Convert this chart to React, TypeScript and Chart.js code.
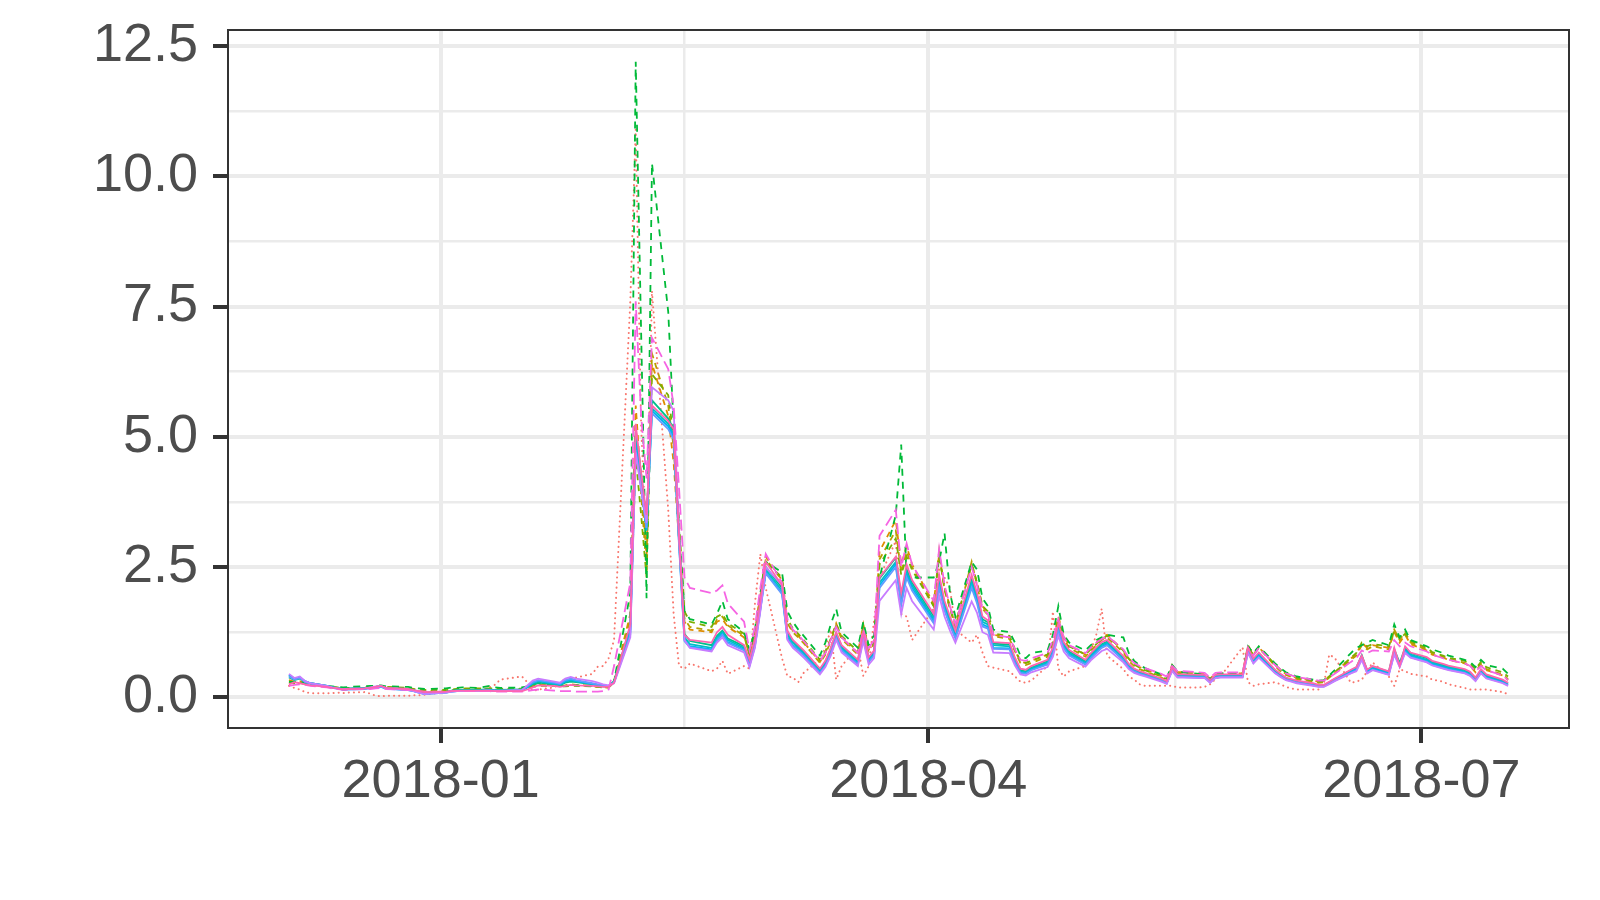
import React, { useEffect, useRef } from "react";
import { Chart, registerables } from "chart.js";
Chart.register(...registerables);

// Trading days, Dec 2017 - Jul 2018
const dates = [
  "2017-12-04","2017-12-05","2017-12-06","2017-12-07","2017-12-08","2017-12-11","2017-12-12","2017-12-13","2017-12-14","2017-12-15",
  "2017-12-18","2017-12-19","2017-12-20","2017-12-21","2017-12-22","2017-12-26","2017-12-27","2017-12-28","2017-12-29",
  "2018-01-02","2018-01-03","2018-01-04","2018-01-05","2018-01-08","2018-01-09","2018-01-10","2018-01-11","2018-01-12",
  "2018-01-16","2018-01-17","2018-01-18","2018-01-19","2018-01-22","2018-01-23","2018-01-24","2018-01-25","2018-01-26",
  "2018-01-29","2018-01-30","2018-01-31",
  "2018-02-01","2018-02-02","2018-02-05","2018-02-06","2018-02-07","2018-02-08","2018-02-09","2018-02-12","2018-02-13",
  "2018-02-14","2018-02-15","2018-02-16","2018-02-20","2018-02-21","2018-02-22","2018-02-23","2018-02-26","2018-02-27","2018-02-28",
  "2018-03-01","2018-03-02","2018-03-05","2018-03-06","2018-03-07","2018-03-08","2018-03-09","2018-03-12","2018-03-13",
  "2018-03-14","2018-03-15","2018-03-16","2018-03-19","2018-03-20","2018-03-21","2018-03-22","2018-03-23","2018-03-26",
  "2018-03-27","2018-03-28","2018-03-29",
  "2018-04-02","2018-04-03","2018-04-04","2018-04-05","2018-04-06","2018-04-09","2018-04-10","2018-04-11","2018-04-12",
  "2018-04-13","2018-04-16","2018-04-17","2018-04-18","2018-04-19","2018-04-20","2018-04-23","2018-04-24","2018-04-25",
  "2018-04-26","2018-04-27","2018-04-30",
  "2018-05-01","2018-05-02","2018-05-03","2018-05-04","2018-05-07","2018-05-08","2018-05-09","2018-05-10","2018-05-11",
  "2018-05-14","2018-05-15","2018-05-16","2018-05-17","2018-05-18","2018-05-21","2018-05-22","2018-05-23","2018-05-24",
  "2018-05-25","2018-05-29","2018-05-30","2018-05-31",
  "2018-06-01","2018-06-04","2018-06-05","2018-06-06","2018-06-07","2018-06-08","2018-06-11","2018-06-12","2018-06-13",
  "2018-06-14","2018-06-15","2018-06-18","2018-06-19","2018-06-20","2018-06-21","2018-06-22","2018-06-25","2018-06-26",
  "2018-06-27","2018-06-28","2018-06-29",
  "2018-07-02","2018-07-03","2018-07-05","2018-07-06","2018-07-09","2018-07-10","2018-07-11","2018-07-12","2018-07-13",
  "2018-07-16","2018-07-17",
];

const s01 = [ // salmon dotted
  0.22,0.18,0.15,0.10,0.08, 0.08,0.08,0.09,0.08,0.09, 0.10,0.07,0.03,0.02,0.03, 0.03,0.04,0.04,0.05,
  0.10,0.13,0.12,0.12, 0.14,0.16,0.19,0.24,0.34, 0.40,0.29,0.12,0.15, 0.19,0.28,0.36,0.30,0.38, 0.45,0.59,0.60,
  0.75,1.10, 7.60,10.90,5.20,2.80,7.80, 3.60,1.60,0.60,0.55,0.65, 0.50,0.55,0.70,0.45, 0.60,0.55,1.80,
  2.75,2.10, 0.75,0.40,0.38,0.29,0.47, 0.73,0.95,1.30,0.34,0.60, 0.98,0.41,0.60,1.49,2.30, 3.00,1.60,1.55,1.10,
  1.70,2.45,2.30,2.10,1.30, 1.05,1.20,0.86,0.60,0.57, 0.50,0.40,0.30,0.28,0.32, 0.60,1.65,0.55,0.40,0.50, 0.60,
  0.90,1.20,1.70,0.80, 0.54,0.40,0.34,0.25,0.22, 0.22,0.22,0.22,0.19,0.19, 0.19,0.20,0.25,0.35,0.41, 0.96,0.29,0.22,
  0.25, 0.29,0.25,0.20,0.17,0.15, 0.15,0.15,0.25,0.82,0.76, 0.28,0.30,0.34,0.50,0.67, 0.40,0.22,0.54,0.50,0.45,
  0.40,0.34, 0.30,0.25, 0.18,0.15,0.15,0.15,0.15, 0.10,0.06,
];
const s02 = [ // orange dashed
  0.33,0.30,0.31,0.27,0.25, 0.21,0.19,0.18,0.17,0.17, 0.18,0.19,0.20,0.21,0.18, 0.16,0.15,0.13,0.11,
  0.12,0.14,0.15,0.15, 0.15,0.16,0.16,0.15,0.15, 0.15,0.18,0.22,0.25, 0.23,0.21,0.23,0.25,0.24, 0.22,0.20,0.19,
  0.19,0.32, 1.60,5.60,4.10,2.70,6.40, 5.40,4.50,3.00,1.45,1.30, 1.25,1.45,1.50,1.35, 1.15,0.82,1.25,
  2.00,2.70, 2.25,1.45,1.28,1.18,1.06, 0.68,0.85,1.12,1.42,1.15, 0.85,1.40,0.92,1.05,2.80, 3.40,2.55,2.90,2.55,
  1.80,2.75,2.10,1.75,1.40, 2.55,2.20,1.75,1.62,1.20, 1.15,0.90,0.68,0.66,0.70, 0.82,1.08,1.55,1.18,1.00, 0.82,
  0.95,1.05,1.15,1.20, 0.90,0.74,0.65,0.58,0.54, 0.42,0.37,0.62,0.49,0.48, 0.46,0.45,0.36,0.45,0.46, 0.46,1.00,0.82,
  0.96, 0.62,0.52,0.45,0.41,0.37, 0.32,0.30,0.31,0.40,0.48, 0.75,0.82,1.05,0.95,1.00, 0.95,1.25,1.05,1.20,1.02,
  0.90,0.82, 0.76,0.72, 0.65,0.60,0.48,0.62,0.52, 0.42,0.33,
];
const s03 = [ // olive dashed
  0.30,0.28,0.29,0.26,0.24, 0.21,0.19,0.18,0.17,0.17, 0.18,0.19,0.20,0.21,0.19, 0.17,0.15,0.14,0.12,
  0.13,0.14,0.15,0.16, 0.16,0.16,0.16,0.16,0.15, 0.16,0.18,0.21,0.24, 0.23,0.21,0.22,0.24,0.23, 0.21,0.20,0.19,
  0.19,0.30, 1.50,5.20,3.90,2.45,6.60, 5.60,4.80,3.20,1.50,1.35, 1.28,1.50,1.55,1.38, 1.18,0.80,1.22,
  1.95,2.65, 2.25,1.42,1.25,1.15,1.04, 0.66,0.82,1.08,1.38,1.12, 0.82,1.36,0.90,1.02,2.65, 3.20,2.40,2.80,2.50,
  1.75,2.80,2.05,1.70,1.35, 2.60,2.15,1.70,1.58,1.17, 1.12,0.88,0.66,0.62,0.66, 0.78,1.02,1.50,1.12,0.95, 0.78,
  0.90,1.00,1.10,1.15, 0.86,0.70,0.60,0.54,0.50, 0.38,0.33,0.58,0.45,0.44, 0.42,0.41,0.32,0.41,0.42, 0.42,0.98,0.80,
  0.95, 0.60,0.50,0.43,0.39,0.35, 0.30,0.28,0.29,0.38,0.46, 0.72,0.80,1.00,0.92,0.98, 0.92,1.30,1.10,1.25,1.05,
  0.92,0.84, 0.78,0.74, 0.66,0.62,0.50,0.64,0.54, 0.44,0.35,
];
const s04 = [ // lime dashed
  0.28,0.27,0.28,0.25,0.24, 0.21,0.20,0.19,0.18,0.18, 0.19,0.20,0.21,0.21,0.20, 0.18,0.16,0.15,0.14,
  0.14,0.15,0.16,0.17, 0.17,0.17,0.17,0.17,0.16, 0.17,0.18,0.20,0.22, 0.22,0.21,0.21,0.22,0.22, 0.21,0.20,0.19,
  0.19,0.28, 1.40,4.60,3.50,2.30,6.20, 5.80,5.00,3.40,1.65,1.45, 1.35,1.55,1.60,1.42, 1.22,0.85,1.20,
  1.90,2.60, 2.30,1.50,1.32,1.22,1.10, 0.72,0.88,1.12,1.40,1.18, 0.88,1.38,0.95,1.05,2.55, 3.05,2.35,2.70,2.45,
  1.75,2.70,2.10,1.72,1.40, 2.55,2.20,1.75,1.65,1.22, 1.18,0.92,0.70,0.66,0.70, 0.82,1.05,1.48,1.15,0.98, 0.82,
  0.92,1.02,1.12,1.18, 0.90,0.74,0.63,0.57,0.52, 0.40,0.35,0.58,0.46,0.45, 0.43,0.42,0.34,0.42,0.43, 0.43,0.95,0.82,
  0.97, 0.63,0.53,0.46,0.42,0.38, 0.32,0.30,0.31,0.40,0.48, 0.76,0.85,1.05,0.98,1.02, 0.98,1.28,1.12,1.22,1.08,
  0.95,0.87, 0.80,0.76, 0.70,0.65,0.54,0.68,0.58, 0.48,0.40,
];
const s05 = [ // green dashed
  0.30,0.29,0.31,0.27,0.25, 0.22,0.21,0.20,0.19,0.20, 0.21,0.22,0.22,0.23,0.21, 0.20,0.18,0.17,0.16,
  0.17,0.19,0.18,0.19, 0.18,0.20,0.22,0.19,0.18, 0.19,0.21,0.24,0.27, 0.23,0.22,0.22,0.24,0.23, 0.22,0.21,0.21,
  0.21,0.30, 2.00,12.20,7.00,1.90,10.25, 7.40,5.20,3.20,1.65,1.50, 1.40,1.60,1.85,1.50, 1.25,0.90,1.30,
  2.00,2.60, 2.40,1.65,1.45,1.30,1.18, 0.80,1.05,1.40,1.70,1.25, 0.95,1.45,1.00,1.20,2.30, 3.50,4.85,2.30,2.30,
  2.30,2.60,3.15,2.00,1.55, 2.60,2.45,1.90,1.75,1.30, 1.25,1.05,0.80,0.75,0.85, 0.90,1.20,1.75,1.20,1.05, 0.90,
  1.00,1.10,1.15,1.20, 1.15,0.85,0.70,0.62,0.56, 0.44,0.38,0.62,0.50,0.48, 0.45,0.44,0.35,0.44,0.46, 0.46,0.98,0.85,
  0.98, 0.65,0.56,0.48,0.44,0.40, 0.34,0.32,0.33,0.42,0.52, 0.85,0.95,1.00,1.05,1.10, 1.00,1.40,1.15,1.30,1.10,
  0.98,0.92, 0.85,0.80, 0.72,0.68,0.58,0.72,0.62, 0.55,0.45,
];
const s06 = [ // teal solid
  0.38,0.33,0.36,0.29,0.27, 0.22,0.19,0.18,0.16,0.17, 0.18,0.18,0.20,0.21,0.18, 0.16,0.14,0.11,0.09,
  0.11,0.13,0.14,0.14, 0.14,0.15,0.15,0.14,0.14, 0.15,0.19,0.25,0.28, 0.25,0.23,0.28,0.30,0.29, 0.25,0.23,0.22,
  0.22,0.31, 1.35,5.10,4.30,3.40,5.70, 5.35,5.15,3.10,1.22,1.08, 1.00,1.18,1.28,1.13, 0.98,0.68,1.08,
  1.80,2.50, 2.10,1.25,1.08,0.98,0.88, 0.53,0.68,0.93,1.23,0.98, 0.71,1.23,0.75,0.88,2.28, 2.68,1.92,2.46,2.20,
  1.55,2.26,1.80,1.50,1.24, 2.26,1.95,1.50,1.44,1.03, 1.01,0.73,0.52,0.50,0.57, 0.69,0.93,1.38,1.03,0.88, 0.69,
  0.82,0.92,1.02,1.07, 0.77,0.62,0.54,0.49,0.45, 0.34,0.29,0.55,0.42,0.42, 0.41,0.41,0.31,0.41,0.42, 0.42,0.93,0.72,
  0.84, 0.52,0.44,0.37,0.34,0.31, 0.26,0.23,0.23,0.29,0.35, 0.52,0.57,0.81,0.52,0.59, 0.49,0.92,0.66,0.95,0.85,
  0.75,0.68, 0.62,0.59, 0.52,0.47,0.36,0.52,0.42, 0.32,0.27,
];
const s07 = [ // cyan solid
  0.42,0.35,0.38,0.30,0.27, 0.22,0.19,0.17,0.15,0.16, 0.17,0.18,0.20,0.21,0.17, 0.15,0.13,0.10,0.07,
  0.10,0.12,0.13,0.13, 0.13,0.14,0.14,0.13,0.13, 0.14,0.20,0.27,0.31, 0.26,0.24,0.30,0.33,0.31, 0.26,0.24,0.22,
  0.22,0.30, 1.30,5.00,4.20,3.30,5.55, 5.25,5.05,3.00,1.15,1.02, 0.95,1.15,1.25,1.10, 0.95,0.65,1.05,
  1.75,2.45, 2.05,1.20,1.05,0.95,0.85, 0.50,0.65,0.90,1.20,0.95, 0.68,1.20,0.72,0.85,2.20, 2.60,1.85,2.40,2.15,
  1.50,2.20,1.75,1.45,1.20, 2.20,1.90,1.45,1.40,1.00, 0.98,0.70,0.50,0.48,0.55, 0.67,0.90,1.35,1.00,0.85, 0.67,
  0.80,0.90,1.00,1.05, 0.75,0.60,0.52,0.47,0.44, 0.33,0.28,0.54,0.41,0.41, 0.40,0.40,0.30,0.40,0.41, 0.41,0.92,0.70,
  0.82, 0.50,0.42,0.36,0.33,0.30, 0.25,0.22,0.22,0.28,0.34, 0.50,0.55,0.79,0.50,0.57, 0.47,0.89,0.63,0.92,0.82,
  0.72,0.66, 0.60,0.57, 0.50,0.45,0.34,0.50,0.40, 0.30,0.25,
];
const s08 = [ // blue solid
  0.43,0.36,0.38,0.31,0.27, 0.22,0.19,0.17,0.15,0.16, 0.17,0.18,0.19,0.20,0.17, 0.14,0.12,0.09,0.06,
  0.09,0.11,0.12,0.13, 0.13,0.13,0.14,0.13,0.12, 0.13,0.20,0.28,0.32, 0.27,0.25,0.31,0.34,0.31, 0.26,0.24,0.22,
  0.21,0.28, 1.25,4.85,4.05,3.20,5.50, 5.20,5.00,2.95,1.10,0.98, 0.92,1.10,1.22,1.06, 0.92,0.62,1.00,
  1.70,2.40, 2.00,1.15,1.00,0.92,0.82, 0.48,0.62,0.86,1.16,0.92, 0.65,1.15,0.70,0.82,2.15, 2.55,1.80,2.35,2.10,
  1.45,2.15,1.70,1.40,1.15, 2.15,1.85,1.40,1.35,0.95, 0.94,0.67,0.48,0.46,0.53, 0.64,0.86,1.30,0.96,0.82, 0.64,
  0.77,0.87,0.97,1.02, 0.72,0.58,0.50,0.45,0.42, 0.32,0.27,0.52,0.40,0.40, 0.39,0.39,0.29,0.39,0.40, 0.40,0.89,0.68,
  0.79, 0.48,0.41,0.35,0.32,0.29, 0.24,0.21,0.21,0.27,0.33, 0.49,0.54,0.76,0.49,0.55, 0.46,0.86,0.61,0.89,0.79,
  0.70,0.64, 0.58,0.55, 0.48,0.44,0.33,0.48,0.38, 0.29,0.24,
];
const s09 = [ // light blue solid
  0.40,0.34,0.37,0.29,0.26, 0.21,0.18,0.16,0.15,0.15, 0.16,0.17,0.19,0.20,0.16, 0.14,0.12,0.09,0.07,
  0.09,0.11,0.12,0.12, 0.12,0.13,0.13,0.12,0.12, 0.13,0.21,0.29,0.33, 0.28,0.26,0.33,0.36,0.33, 0.27,0.25,0.23,
  0.22,0.28, 1.20,4.75,4.00,3.25,5.45, 5.15,4.95,2.90,1.08,0.96, 0.90,1.08,1.20,1.04, 0.90,0.60,0.98,
  1.68,2.38, 1.98,1.12,0.98,0.90,0.80, 0.47,0.60,0.84,1.14,0.90, 0.63,1.13,0.68,0.80,2.10, 2.50,1.78,2.30,2.05,
  1.42,2.10,1.66,1.38,1.13, 2.10,1.80,1.36,1.32,0.93, 0.92,0.66,0.47,0.45,0.52, 0.63,0.84,1.27,0.94,0.80, 0.63,
  0.75,0.85,0.95,1.00, 0.71,0.57,0.50,0.45,0.42, 0.32,0.27,0.51,0.39,0.39, 0.38,0.38,0.29,0.38,0.39, 0.39,0.87,0.66,
  0.77, 0.47,0.40,0.34,0.31,0.28, 0.23,0.21,0.21,0.26,0.32, 0.47,0.52,0.74,0.47,0.53, 0.44,0.84,0.59,0.87,0.77,
  0.68,0.62, 0.56,0.53, 0.47,0.42,0.32,0.47,0.37, 0.28,0.23,
];
const s10 = [ // purple solid
  0.45,0.37,0.40,0.31,0.27, 0.22,0.19,0.17,0.15,0.16, 0.17,0.19,0.21,0.22,0.17, 0.15,0.12,0.09,0.06,
  0.09,0.11,0.12,0.12, 0.12,0.13,0.13,0.13,0.13, 0.14,0.23,0.32,0.36, 0.30,0.28,0.36,0.39,0.36, 0.31,0.28,0.25,
  0.23,0.27, 1.15,4.70,4.00,3.35,5.95, 5.70,5.50,3.20,1.10,0.95, 0.88,1.05,1.15,1.00, 0.86,0.58,0.95,
  1.65,2.50, 2.15,1.10,0.95,0.86,0.76, 0.44,0.58,0.80,1.10,0.86, 0.60,1.08,0.63,0.75,1.85, 2.25,1.60,2.10,1.85,
  1.30,1.95,1.55,1.28,1.05, 1.84,1.62,1.25,1.20,0.86, 0.85,0.61,0.44,0.42,0.48, 0.58,0.78,1.18,0.88,0.75, 0.59,
  0.71,0.80,0.89,0.93, 0.67,0.54,0.47,0.43,0.40, 0.30,0.26,0.50,0.38,0.38, 0.37,0.37,0.28,0.37,0.38, 0.38,0.85,0.65,
  0.76, 0.46,0.39,0.33,0.30,0.27, 0.22,0.20,0.20,0.25,0.31, 0.46,0.50,0.72,0.46,0.52, 0.43,0.82,0.58,0.85,0.76,
  0.67,0.61, 0.55,0.52, 0.46,0.41,0.31,0.46,0.36, 0.27,0.22,
];
const s11 = [ // magenta long dash
  0.22,0.24,0.25,0.24,0.22, 0.19,0.17,0.16,0.15,0.15, 0.16,0.16,0.17,0.18,0.16, 0.14,0.13,0.12,0.11,
  0.11,0.12,0.12,0.12, 0.12,0.12,0.12,0.11,0.11, 0.11,0.12,0.14,0.15, 0.13,0.12,0.12,0.12,0.11, 0.11,0.11,0.12,
  0.15,0.60, 2.20,7.60,5.40,4.20,6.90, 6.30,5.60,4.00,2.30,2.10, 2.00,2.05,2.15,1.80, 1.45,0.90,1.35,
  2.10,2.75, 2.20,1.50,1.30,1.20,1.08, 0.70,0.85,1.10,1.35,1.15, 0.85,1.30,0.95,1.10,3.10, 3.60,2.50,2.95,2.55,
  1.85,2.85,2.15,1.75,1.40, 2.50,2.15,1.70,1.60,1.20, 1.15,0.92,0.72,0.70,0.75, 0.85,1.10,1.50,1.15,1.00, 0.85,
  0.95,1.05,1.12,1.18, 0.92,0.76,0.66,0.60,0.56, 0.45,0.40,0.60,0.50,0.50, 0.48,0.47,0.38,0.47,0.48, 0.48,0.95,0.80,
  0.95, 0.62,0.53,0.46,0.42,0.39, 0.34,0.32,0.32,0.38,0.45, 0.68,0.75,0.90,0.85,0.90, 0.88,1.10,0.98,1.05,0.98,
  0.88,0.82, 0.75,0.72, 0.65,0.60,0.50,0.60,0.52, 0.42,0.33,
];
const s12 = [ // pink solid
  0.25,0.29,0.27,0.25,0.23, 0.20,0.18,0.17,0.15,0.16, 0.17,0.18,0.20,0.22,0.18, 0.16,0.14,0.12,0.10,
  0.11,0.12,0.13,0.13, 0.13,0.13,0.13,0.12,0.12, 0.12,0.15,0.19,0.23, 0.22,0.20,0.22,0.24,0.23, 0.22,0.21,0.20,
  0.20,0.28, 1.40,5.25,4.30,3.50,5.60, 5.30,5.15,3.05,1.20,1.10, 1.05,1.25,1.35,1.20, 1.00,0.72,1.12,
  1.85,2.60, 2.15,1.28,1.10,1.00,0.90, 0.55,0.70,0.95,1.25,1.00, 0.72,1.25,0.77,0.90,2.30, 2.70,2.00,2.55,2.25,
  1.60,2.35,1.85,1.55,1.28, 2.35,2.00,1.55,1.48,1.06, 1.04,0.76,0.55,0.53,0.60, 0.72,0.96,1.42,1.06,0.91, 0.72,
  0.85,0.96,1.06,1.10, 0.79,0.64,0.55,0.50,0.47, 0.36,0.31,0.57,0.44,0.44, 0.43,0.43,0.33,0.43,0.44, 0.44,0.95,0.74,
  0.86, 0.53,0.45,0.38,0.35,0.32, 0.27,0.24,0.24,0.30,0.36, 0.53,0.58,0.80,0.53,0.60, 0.50,0.95,0.60,0.98,0.86,
  0.77,0.70, 0.64,0.61, 0.54,0.49,0.38,0.54,0.44, 0.34,0.28,
];

const seriesValues = [s01, s02, s03, s04, s05, s06, s07, s08, s09, s10, s11, s12];
const seriesNames = ["s01","s02","s03","s04","s05","s06","s07","s08","s09","s10","s11","s12"];
const seriesColors = ["#F8766D","#DE8C00","#B79F00","#7CAE00","#00BA38","#00C08B","#00BFC4","#00B4F0","#619CFF","#C77CFF","#F564E3","#FF64B0"];
const seriesDashes: number[][] = [[0.1, 5], [6, 5], [6, 5], [6, 5], [7, 6], [], [], [], [], [], [11, 5], []];

const yMajorTicks = [0, 2.5, 5, 7.5, 10, 12.5];
const xTickDates = ["2018-01-01", "2018-04-01", "2018-07-01"];
const xTickLabels = ["2018-01", "2018-04", "2018-07"];

const ORIGIN = Date.UTC(2018, 0, 1);
const dayOf = (s: string) => {
  const [y, m, d] = s.split("-").map(Number);
  return (Date.UTC(y, m - 1, d) - ORIGIN) / 86400000;
};

const FONT = '"Liberation Sans", Arial, Helvetica, sans-serif';

export default function App() {
  const ref = useRef<HTMLCanvasElement | null>(null);

  useEffect(() => {
    const canvas = ref.current;
    if (!canvas) return;
    const xs = dates.map(dayOf);
    const xMin0 = Math.min(...xs), xMax0 = Math.max(...xs);
    const xPad = (xMax0 - xMin0) * 0.05;
    const allV = seriesValues.flat();
    const yMin0 = Math.min(...allV), yMax0 = Math.max(...allV);
    const yPad = (yMax0 - yMin0) * 0.05;

    const xMajor = xTickDates.map(dayOf);
    const xMinor: number[] = [];
    for (let i = 0; i < xMajor.length - 1; i++) xMinor.push((xMajor[i] + xMajor[i + 1]) / 2);
    const xAll = [...xMajor, ...xMinor].sort((a, b) => a - b);
    const yStep = yMajorTicks[1] - yMajorTicks[0];
    const yMinor = yMajorTicks.map((v) => v + yStep / 2);
    const yAll = [...yMajorTicks, ...yMinor].sort((a, b) => a - b);
    const isXMajor = (v: number) => xMajor.some((m) => Math.abs(m - v) < 1e-6);
    const isYMajor = (v: number) => yMajorTicks.some((m) => Math.abs(m - v) < 1e-6);

    const datasets = seriesValues.map((vals, i) => ({
      label: seriesNames[i],
      data: vals.map((v, j) => ({ x: xs[j], y: v })),
      borderColor: seriesColors[i],
      backgroundColor: seriesColors[i],
      borderWidth: i === 0 ? 2 : 1.8,
      borderDash: seriesDashes[i],
      borderCapStyle: i === 0 ? "round" : "butt",
      pointRadius: 0,
      fill: false,
      tension: 0,
      order: seriesValues.length - i,
    }));

    const panelBorder = {
      id: "panelBorder",
      afterDatasetsDraw(chart: any) {
        const { ctx, chartArea: a } = chart;
        ctx.save();
        ctx.strokeStyle = "#333333";
        ctx.lineWidth = 2;
        ctx.strokeRect(a.left, a.top, a.right - a.left, a.bottom - a.top);
        ctx.restore();
      },
    };

    const chart = new Chart(canvas, {
      type: "line",
      data: { datasets: datasets as any },
      plugins: [panelBorder],
      options: {
        animation: false,
        responsive: false,
        devicePixelRatio: 1,
        layout: { padding: { top: 30, right: 31, left: 0, bottom: 0 } },
        plugins: { legend: { display: false }, tooltip: { enabled: false } },
        scales: {
          x: {
            type: "linear",
            min: xMin0 - xPad,
            max: xMax0 + xPad,
            afterBuildTicks: (s: any) => { s.ticks = xAll.map((v) => ({ value: v })); },
            afterFit: (s: any) => { s.height = 172; s.paddingLeft = 0; s.paddingRight = 0; },
            border: { display: false },
            grid: {
              color: "#EBEBEB",
              lineWidth: (c: any) => (isXMajor(c.tick.value) ? 4 : 2.5),
              drawTicks: true,
              tickLength: 15,
              tickWidth: 4,
              tickColor: (c: any) => (isXMajor(c.tick.value) ? "#333333" : "rgba(0,0,0,0)"),
            },
            ticks: {
              autoSkip: false,
              maxRotation: 0,
              minRotation: 0,
              padding: 7,
              color: "#4D4D4D",
              font: { family: FONT, size: 54 },
              callback: (v: any) => {
                const k = xMajor.findIndex((m) => Math.abs(m - v) < 1e-6);
                return k >= 0 ? xTickLabels[k] : "";
              },
            },
          },
          y: {
            type: "linear",
            min: yMin0 - yPad,
            max: yMax0 + yPad,
            afterBuildTicks: (s: any) => { s.ticks = yAll.map((v) => ({ value: v })); },
            afterFit: (s: any) => { s.width = 228; s.paddingTop = 0; s.paddingBottom = 0; },
            border: { display: false },
            grid: {
              color: "#EBEBEB",
              lineWidth: (c: any) => (isYMajor(c.tick.value) ? 4 : 2.5),
              drawTicks: true,
              tickLength: 15,
              tickWidth: 4,
              tickColor: (c: any) => (isYMajor(c.tick.value) ? "#333333" : "rgba(0,0,0,0)"),
            },
            ticks: {
              autoSkip: false,
              padding: 15,
              color: "#4D4D4D",
              font: { family: FONT, size: 54 },
              callback: (v: any) => (isYMajor(Number(v)) ? Number(v).toFixed(1) : ""),
            },
          },
        },
      },
    });
    return () => chart.destroy();
  }, []);

  return (
    <div style={{ position: "absolute", left: 0, top: 0, width: 1600, height: 900, background: "#FFFFFF" }}>
      <canvas ref={ref} width={1600} height={900} style={{ display: "block", width: 1600, height: 900 }} />
    </div>
  );
}
